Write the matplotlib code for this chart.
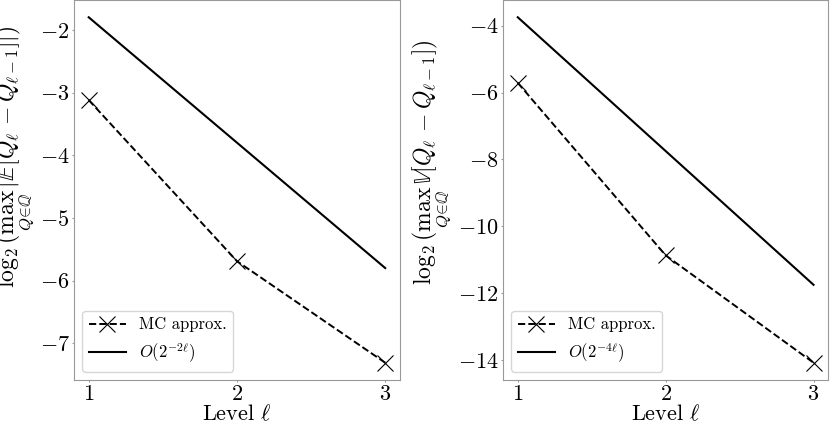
import matplotlib
matplotlib.use('Agg')
import matplotlib.pyplot as plt

plt.rcParams['mathtext.fontset'] = 'cm'
plt.rcParams['font.family'] = 'serif'
plt.rcParams['font.serif'] = ['cmr10', 'DejaVu Serif']
plt.rcParams['axes.formatter.use_mathtext'] = True

levels = [1, 2, 3]

# left panel: mean of differences
mean_mc = [-3.12, -5.69, -7.31]
mean_rate = [-1.80, -3.80, -5.80]

# right panel: variance of differences
var_mc = [-5.71, -10.87, -14.08]
var_rate = [-3.75, -7.75, -11.75]

ylabels = [r'$\log_2(\max_{Q\in\mathbb{Q}}\,|\mathbb{E}[Q_\ell - Q_{\ell-1}]|)$',
           r'$\log_2(\max_{Q\in\mathbb{Q}}\,\mathbb{V}[Q_\ell - Q_{\ell-1}])$']
rate_labels = [r'$O(2^{-2\ell})$', r'$O(2^{-4\ell})$']
label_xy = [(-0.116, 0.587), (-0.154, 0.574)]

fig = plt.figure(figsize=(8.3, 4.22), dpi=100)
ax1 = fig.add_axes([0.089, 0.0995, 0.393, 0.9005])
ax2 = fig.add_axes([0.606, 0.0995, 0.392, 0.9005])

for ax, mc, rate, yl, rl, lxy in zip([ax1, ax2], [mean_mc, var_mc], [mean_rate, var_rate],
                                     ylabels, rate_labels, label_xy):
    ax.plot(levels, mc, color='k', linestyle='--', linewidth=1.4, marker='x',
            markersize=11, markeredgewidth=0.8, label='MC approx.')
    ax.plot(levels, rate, color='k', linewidth=1.5, label=rl)
    ax.set_xticks(levels)
    ax.set_xlabel(r'Level $\ell$', fontsize=16, labelpad=0)
    ax.set_ylabel(yl, fontsize=17)
    ax.yaxis.set_label_coords(*lxy)
    ax.tick_params(labelsize=16, length=1.5, width=0.8, pad=1.5, color='#999999')
    for s in ax.spines.values():
        s.set_color('#999999')
    ax.legend(loc='lower left', fontsize=12, handlelength=2.2)

ax2.set_yticks([-4, -6, -8, -10, -12, -14])

fig.savefig('out.png', dpi=100)
